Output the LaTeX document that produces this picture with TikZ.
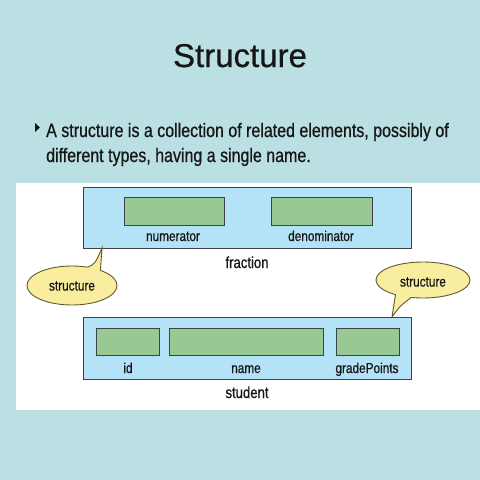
\documentclass[tikz,border=0pt]{standalone}
\usepackage{fontspec}
\usepackage{tikz}
\usepackage{xcolor}
\usetikzlibrary{positioning, shapes.geometric}
\setmainfont{Liberation Sans}[FakeBold=0.6]
\newfontfamily\narrowsans[FakeStretch=0.82, FakeBold=0.7]{Liberation Sans}
\definecolor{slidebg}{RGB}{187, 224, 228}
\definecolor{structblue}{RGB}{180, 226, 246}
\definecolor{fieldgreen}{RGB}{152, 201, 146}
\definecolor{calloutyellow}{RGB}{249, 238, 160}
\definecolor{calloutedge}{RGB}{95, 90, 45}
\definecolor{boxedge}{RGB}{60, 65, 75}
\definecolor{textdark}{RGB}{22, 22, 22}
\tikzset{
    structbox/.style={rectangle, draw=boxedge, line width=1pt, fill=structblue, inner sep=0pt, outer sep=0pt},
    fieldbox/.style={rectangle, draw=boxedge, line width=1pt, fill=fieldgreen, inner sep=0pt, outer sep=0pt},
    fieldlabel/.style={anchor=base, inner sep=0pt, text=textdark, font=\narrowsans\fontsize{14.4}{16}\selectfont},
    structlabel/.style={anchor=base, inner sep=0pt, text=textdark, font=\narrowsans\fontsize{16}{18}\selectfont},
    callout/.style={ellipse, draw=calloutedge, line width=0.9pt, fill=calloutyellow, inner sep=0pt, outer sep=0pt},
    callouttext/.style={inner sep=0pt, text=textdark, font=\narrowsans\fontsize{14.4}{16}\selectfont},
    callouttail/.style={draw=calloutedge, line width=0.9pt},
    titletext/.style={anchor=base, inner sep=0pt, text=textdark, font=\fontsize{33}{40}\selectfont},
    bodytext/.style={anchor=base west, inner sep=0pt, text=textdark, font=\narrowsans\fontsize{19.5}{25}\selectfont}
}

\begin{document}
\begin{tikzpicture}[x=1pt, y=-1pt]
    \useasboundingbox[fill=slidebg] (0,0) rectangle (480,480);
    \fill[white] (16,183) rectangle (480,410);

    \node[titletext] (title) at (240,67) {Structure};
    \fill[textdark] (35,123) -- (40,127.5) -- (35,132) -- cycle;
    \node[bodytext] (line1) at (46,137) {A structure is a collection of related elements, possibly of};
    \node[bodytext] (line2) at (46,162) {different types, having a single name.};

    \node[structbox, minimum width=328pt, minimum height=61pt] (fraction) at (247,217.5) {};
    \node[fieldbox, minimum width=100pt, minimum height=28pt] (num) at (174,211) {};
    \node[fieldbox, minimum width=101pt, minimum height=28pt] (den) at (321.5,211) {};
    \node[fieldlabel] (numlabel) at (173,241) {numerator};
    \node[fieldlabel] (denlabel) at (321,241) {denominator};
    \node[structlabel] (fraclabel) at (247,268) {fraction};

    \node[structbox, minimum width=328pt, minimum height=62pt] (student) at (247,348) {};
    \node[fieldbox, minimum width=63pt, minimum height=27pt] (id) at (127.5,341.5) {};
    \node[fieldbox, minimum width=154pt, minimum height=27pt] (name) at (246,341.5) {};
    \node[fieldbox, minimum width=63pt, minimum height=27pt] (grade) at (367.5,341.5) {};
    \node[fieldlabel] (idlabel) at (128,373) {id};
    \node[fieldlabel] (namelabel) at (246,373) {name};
    \node[fieldlabel] (gradelabel) at (367,373) {gradePoints};
    \node[structlabel] (studlabel) at (247,398) {student};

    \coordinate (lefttip) at ([xshift=19pt]fraction.south west);
    \coordinate (righttip) at ([xshift=-19pt]student.north east);

    \node[callout, minimum width=90pt, minimum height=39pt] (leftcall) at (72,285.5) {};
    \fill[calloutyellow] (leftcall.center) -- (leftcall.50) .. controls (95,264) .. (lefttip)
        .. controls (101,262) .. (leftcall.28) -- cycle;
    \draw[callouttail] (leftcall.50) .. controls (95,264) .. (lefttip) .. controls (101,262) .. (leftcall.28);
    \node[callouttext] (lefttext) at (72,286) {structure};

    \node[callout, minimum width=94pt, minimum height=36pt] (rightcall) at (423,280) {};
    \fill[calloutyellow] (rightcall.center) -- (rightcall.208) .. controls (394,304) .. (righttip)
        .. controls (400,306) .. (rightcall.236) -- cycle;
    \draw[callouttail] (rightcall.208) .. controls (394,304) .. (righttip) .. controls (400,306) .. (rightcall.236);
    \node[callouttext] (righttext) at (423,282) {structure};
\end{tikzpicture}
\end{document}
